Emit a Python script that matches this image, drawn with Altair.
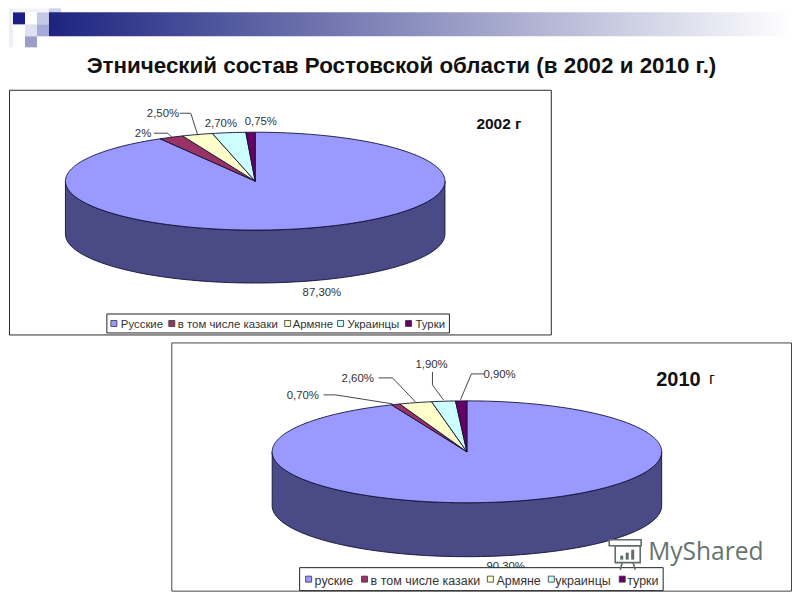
import math
import altair as alt
import pandas as pd

TITLE = "Этнический состав Ростовской области (в 2002 и 2010 г.)"
values_2002 = [87.30, 2.0, 2.50, 2.70, 0.75]
values_2010 = [90.30, 0.70, 2.60, 1.90, 0.90]
labels_2002 = ["87,30%", "2%", "2,50%", "2,70%", "0,75%"]
labels_2010 = ["90,30%", "0,70%", "2,60%", "1,90%", "0,90%"]
legend_2002 = ["Русские", "в том числе казаки", "Армяне", "Украинцы", "Турки"]
legend_2010 = ["руские", "в том числе казаки", "Армяне", "украинцы", "турки"]
slice_colors = ["#9999ff", "#993366", "#ffffcc", "#ccffff", "#660066"]
side_color = "#4a4a86"

X = alt.X("x:Q", scale=alt.Scale(domain=[8, 792], range=[0, 784]), axis=None)
Y = alt.Y("y:Q", scale=alt.Scale(domain=[8, 592], range=[0, 584]), axis=None)


def pie_features(vals, cx, cy, rx, ry, depth):
    def pt(t, dy=0):
        return [cx + rx * math.sin(t), cy - ry * math.cos(t) + dy]
    feats = []
    half = [math.pi / 2 + math.pi * i / 90 for i in range(91)]
    ring = [pt(t) for t in half] + [pt(t, depth) for t in reversed(half)]
    ring.append(ring[0])
    feats.append({"type": "Feature", "properties": {"fill": side_color},
                  "geometry": {"type": "Polygon", "coordinates": [ring]}})
    total = sum(vals)
    start = 0.0
    for v, c in zip(vals, slice_colors):
        end = start + v / total * 2 * math.pi
        n = max(3, int((end - start) * 60))
        arc = [pt(start + (end - start) * i / n) for i in range(n + 1)]
        ring = [[cx, cy]] + arc + [[cx, cy]]
        feats.append({"type": "Feature", "properties": {"fill": c},
                      "geometry": {"type": "Polygon", "coordinates": [ring]}})
        start = end
    return feats


def rects(rows, **mark):
    df = pd.DataFrame(rows, columns=["x", "x2", "y", "y2", "fill"])
    return alt.Chart(df).mark_rect(**mark).encode(
        x=X, x2="x2:Q", y=Y, y2="y2:Q", fill=alt.Fill("fill:N", scale=None))


def texts(rows, **mark):
    df = pd.DataFrame(rows, columns=["x", "y", "t"])
    opts = dict(font="Liberation Sans", baseline="middle", align="left", color="#333333",
                fontSize=11.4, dx=-1, dy=1)
    opts.update(mark)
    return alt.Chart(df).mark_text(**opts).encode(x=X, y=Y, text="t:N")


def leaders(paths, color="#333333", width=0.9):
    rows = []
    for i, p in enumerate(paths):
        for j, (x, y) in enumerate(p):
            rows.append({"id": i, "o": j, "x": x, "y": y})
    return alt.Chart(pd.DataFrame(rows)).mark_line(color=color, strokeWidth=width).encode(
        x=X, y=Y, detail="id:N", order="o:Q")


def pie(vals, *geom):
    return alt.Chart(alt.Data(values=pie_features(vals, *geom))).mark_geoshape(
        stroke="#111133", strokeWidth=0.9
    ).encode(fill=alt.Fill("properties.fill:N", scale=None)).project(
        type="identity", scale=1, translate=[-8, -8])


bar = alt.Chart(pd.DataFrame([{"x": 48, "x2": 792, "y": 12, "y2": 36}])).mark_rect(
    fill=alt.Gradient(gradient="linear", x1=0, x2=1, y1=0, y2=0,
                      stops=[alt.GradientStop(color="#1c2480", offset=0),
                             alt.GradientStop(color="#ffffff", offset=1)])
).encode(x=X, x2="x2:Q", y=Y, y2="y2:Q")

decor = rects([
    [8, 12, 8, 47, "#eef0f8"],
    [12, 48, 8, 12, "#f4f5fb"],
    [48, 60, 8, 24, "#cdd0ea"],
    [36, 48, 12, 24, "#c5c9e6"],
    [12, 24, 12, 24, "#1a1f85"],
    [24, 36, 24, 36, "#dfe1f2"],
    [36, 48, 24, 36, "#a5aad8"],
    [24, 36, 36, 47, "#9a9ec8"],
])

frames = alt.Chart(pd.DataFrame([
    {"x": 8.5, "x2": 551, "y": 90, "y2": 335, "s": "#2a2a2a"},
    {"x": 171, "x2": 791.5, "y": 343, "y2": 591.5, "s": "#444444"},
])).mark_rect(fill="#ffffff", strokeWidth=1).encode(
    x=X, x2="x2:Q", y=Y, y2="y2:Q", stroke=alt.Stroke("s:N", scale=None))

title = texts([[402, 65, TITLE]], fontSize=22.4, fontWeight="bold", color="#111111", align="center")

pie1 = pie(values_2002, 254.5, 181, 190, 49, 53)
pie2 = pie(values_2010, 466.5, 452, 195, 51, 54)

lead = leaders([
    [(179, 113), (190, 113), (197, 135)],
    [(153, 133), (167, 133), (171, 137)],
    [(323, 395), (335, 395), (392, 404)],
    [(378, 378), (392, 378), (415, 402)],
    [(432, 372), (432, 385), (443, 400)],
    [(484, 374), (471, 374), (460, 400)],
])

lab = texts([
    [303, 292, labels_2002[0]], [135, 133, labels_2002[1]], [147, 113, labels_2002[2]],
    [205, 123, labels_2002[3]], [245, 121, labels_2002[4]],
    [287, 395, labels_2010[1]], [342, 378, labels_2010[2]], [416, 364, labels_2010[3]],
    [484, 374, labels_2010[4]], [487, 566, labels_2010[0]],
])

legend_boxes = alt.Chart(pd.DataFrame([
    {"x": 106, "x2": 449, "y": 314, "y2": 333},
    {"x": 299, "x2": 663, "y": 568, "y2": 591},
])).mark_rect(fill="#ffffff", stroke="#222222", strokeWidth=1).encode(x=X, x2="x2:Q", y=Y, y2="y2:Q")

sw1 = [113, 171, 287, 340, 408]
tx1 = [121, 178, 293, 348, 416]
sw2 = [308, 364, 490, 551, 622]
tx2 = [315, 371, 497, 556, 628]
swatches = alt.Chart(pd.DataFrame(
    [{"x": a - 3, "x2": a + 3, "y": 320.5, "y2": 326.5, "fill": c} for a, c in zip(sw1, slice_colors)] +
    [{"x": a - 3, "x2": a + 3, "y": 576.5, "y2": 582.5, "fill": c} for a, c in zip(sw2, slice_colors)]
)).mark_rect(stroke="#333333", strokeWidth=0.8).encode(
    x=X, x2="x2:Q", y=Y, y2="y2:Q", fill=alt.Fill("fill:N", scale=None))
leg1 = texts([[a, 324, t] for a, t in zip(tx1, legend_2002)], fontSize=11.4)
leg2 = texts([[a, 580, t] for a, t in zip(tx2, legend_2010)], fontSize=12.5)

y2002 = texts([[477, 123, "2002 г"]], fontSize=15.5, fontWeight="bold", color="#111111")
y2010 = texts([[657, 379, "2010"]], fontSize=20, fontWeight="bold", color="#111111")
y2010g = texts([[710, 378, "г"]], fontSize=16, color="#111111")

wm = texts([[648, 553, "MyShared"]], fontSize=24.6, font="Open Sans", color="#66736f", dx=0, dy=0)
icon = alt.Chart(pd.DataFrame([
    {"x": 615, "x2": 640, "y": 546, "y2": 563},
    {"x": 609, "x2": 641, "y": 540, "y2": 546},
])).mark_rect(fill="#ffffff", fillOpacity=0.5, stroke="#5f6f66", strokeWidth=1.6).encode(x=X, x2="x2:Q", y=Y, y2="y2:Q")
icon_bars = alt.Chart(pd.DataFrame([
    {"x": 620, "x2": 623, "y": 556, "y2": 560},
    {"x": 625.5, "x2": 628.5, "y": 553, "y2": 560},
    {"x": 631, "x2": 634, "y": 550, "y2": 560},
])).mark_rect(fill="#5f6f66").encode(x=X, x2="x2:Q", y=Y, y2="y2:Q")
icon_legs = leaders([
    [(622, 563), (620, 570)],
    [(633, 563), (635, 570)],
], color="#5f6f66", width=1.6)

chart = alt.layer(
    decor, bar, title, frames, pie1, pie2, lead, lab, legend_boxes, swatches, leg1, leg2,
    y2002, y2010, y2010g, icon, icon_bars, icon_legs, wm
).properties(
    width=784, height=584, padding=0, background="#ffffff"
).configure_view(stroke=None)

chart.save("out.html", embed_options={"renderer": "svg", "actions": False})
